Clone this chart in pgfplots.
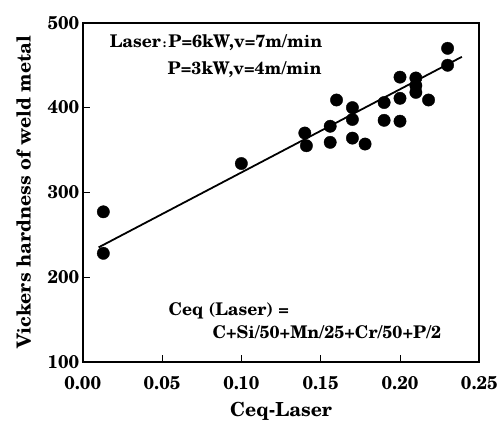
\documentclass[border=0pt]{standalone}
\usepackage{fontspec}
\setmainfont{TeX Gyre Schola}
\usepackage{pgfplots}
\pgfplotsset{compat=1.18}
\begin{document}
\begin{tikzpicture}
\begin{axis}[
    name=ax,
    scale only axis,
    width=398bp, height=340bp,
    xmin=0, xmax=0.25,
    ymin=100, ymax=500,
    xtick={0,0.05,0.1,0.15,0.2,0.25},
    ytick={100,200,300,400,500},
    xtick pos=bottom, ytick pos=left,
    tick align=inside,
    major tick length=7bp,
    tick style={line width=1bp, black},
    axis line style={line width=2bp},
    /pgf/number format/assume math mode=true,
    xticklabel style={yshift=-11bp, /pgf/number format/.cd, fixed, fixed zerofill, precision=2},
    scaled x ticks=false,
    ticklabel style={font=\fontsize{18.5}{21}\selectfont\bfseries},
    xlabel={Ceq-Laser},
    ylabel={Vickers hardness of weld metal},
    label style={font=\fontsize{19.5}{22}\selectfont\bfseries},
    xlabel style={yshift=-6bp},
    ylabel style={yshift=10bp},
    clip=false,
]
\addplot[only marks, mark=*, mark size=6.2bp, black] coordinates {
(0.013,277)(0.013,228)(0.100,334)
(0.140,370)(0.141,355)
(0.156,378)(0.156,359)
(0.160,409)
(0.170,400)(0.170,386)(0.170,364)
(0.178,357)
(0.190,406)(0.190,385)
(0.200,436)(0.200,411)(0.200,384)
(0.210,435)(0.210,426)(0.210,418)
(0.218,409)
(0.230,470)(0.230,450)
};
\addplot[black, line width=1.8bp] coordinates {(0.010,235)(0.239,460)};
\node[anchor=base west, font=\fontsize{17.6}{20}\selectfont\bfseries, inner sep=0pt] at (axis cs:0.017,470.6) {Laser\kern2bp{\fontsize{12}{14}\selectfont:}\kern2bp P=6kW,v=7m/min};
\node[anchor=base west, font=\fontsize{17.6}{20}\selectfont\bfseries, inner sep=0pt] at (axis cs:0.0534,438.8) {P=3kW,v=4m/min};
\node[anchor=base west, font=\fontsize{17.6}{20}\selectfont\bfseries, inner sep=0pt] at (axis cs:0.054,154) {Ceq (Laser) =};
\node[anchor=base west, font=\fontsize{17.6}{20}\selectfont\bfseries, inner sep=0pt] at (axis cs:0.0817,127) {C+Si/50+Mn/25+Cr/50+P/2};
\end{axis}
\path (ax.south west) ++(-83bp,-61bp) rectangle ++(501bp,424bp);
\end{tikzpicture}
\end{document}
